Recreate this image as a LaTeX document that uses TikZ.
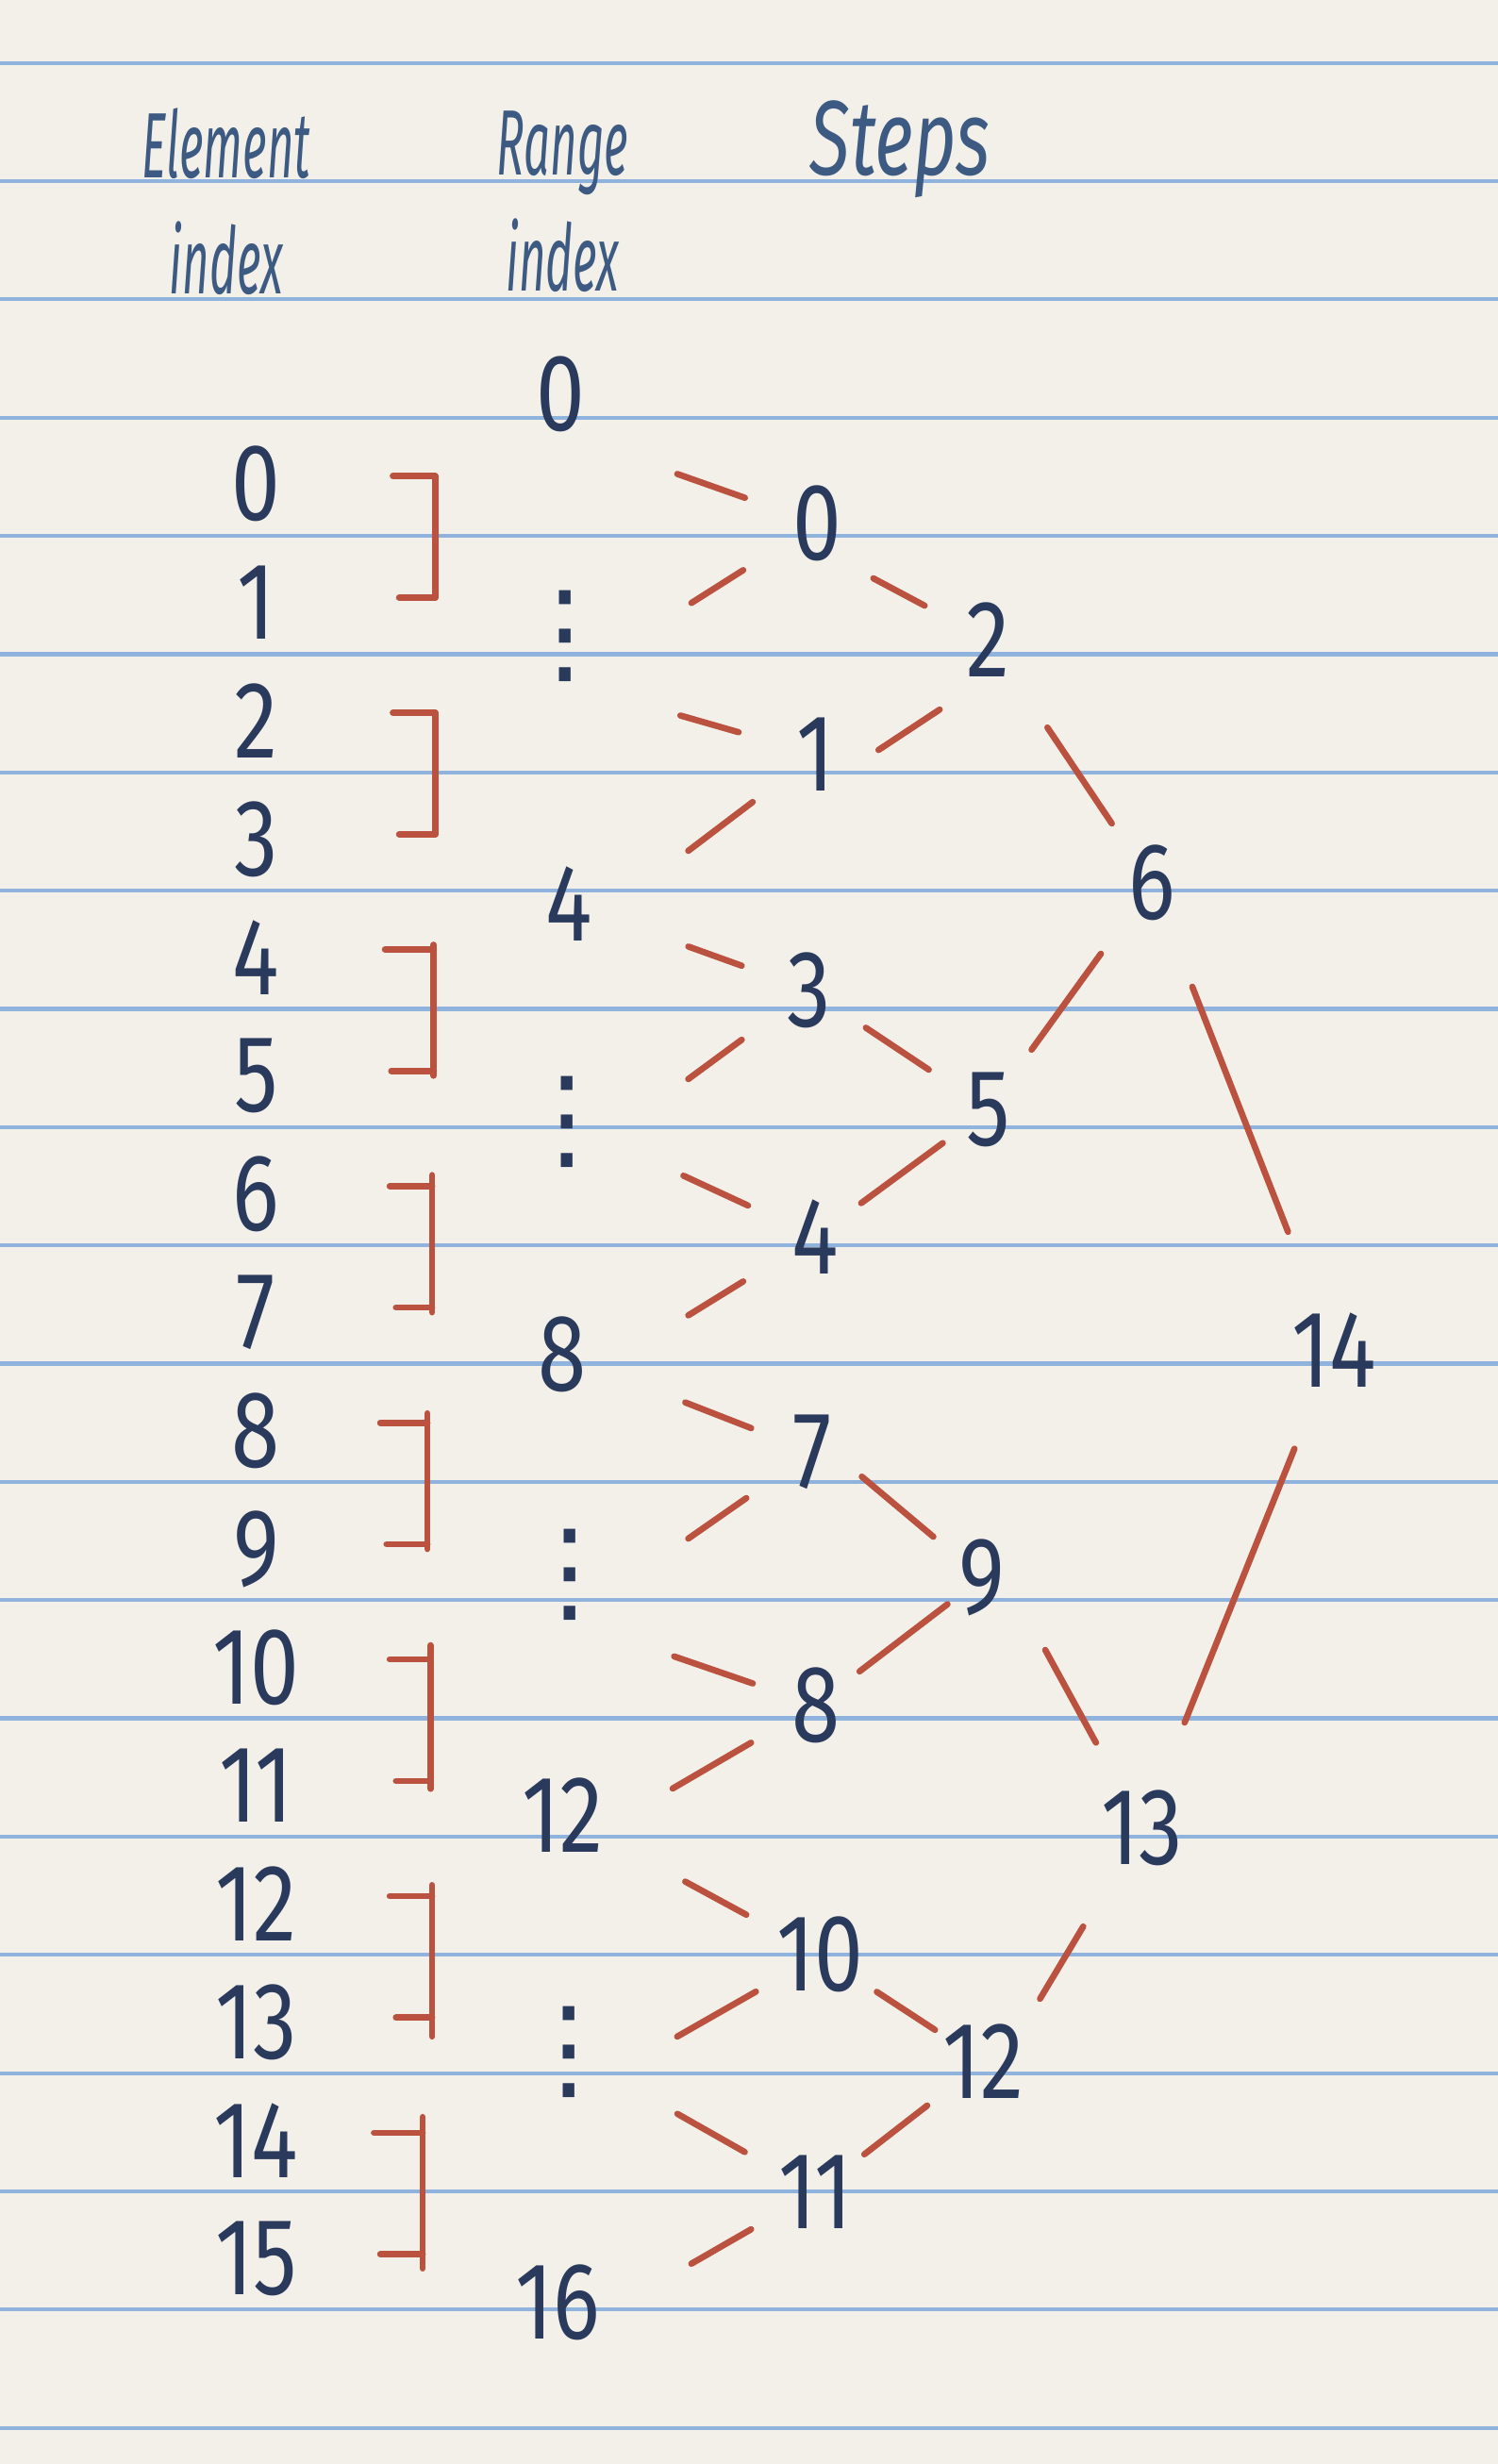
\documentclass[tikz,border=0pt]{standalone}
\usepackage{fontspec}
\usepackage{tikz}
\usetikzlibrary{calc}
\newfontfamily\handfont[FakeStretch=0.8]{Fira Sans}
\newfontfamily\headfont[FakeStretch=0.5]{Fira Sans}
\newfontfamily\stepsfont[FakeStretch=0.7]{Fira Sans}
\newfontfamily\dotsfont{DejaVu Sans}
\definecolor{paper}{HTML}{F3F0E9}
\definecolor{ruleblue}{HTML}{8FB3DD}
\definecolor{inkblue}{HTML}{2A3A5C}
\definecolor{headink}{HTML}{3D5A82}
\definecolor{penred}{HTML}{BB5240}

\begin{document}
\begin{tikzpicture}[x=0.16663mm, y=-0.16663mm,
    num/.style={font=\handfont\fontsize{33}{36}\selectfont, text=inkblue, inner sep=0pt},
    dots/.style={font=\dotsfont\fontsize{34}{38}\selectfont, text=inkblue, inner sep=0pt},
    head/.style={font=\headfont\itshape\fontsize{28}{35}\selectfont, text=headink, inner sep=0pt, align=center},
    link/.style={penred, line width=1.9pt, line cap=round},
    bracket/.style={penred, line width=1.9pt, line cap=round}]
    % Sheet of ruled paper
    \fill[paper] (0,0) rectangle (953,1568);
    \useasboundingbox (0,0) rectangle (953,1568);
    \foreach \k in {0,...,20}
      \draw[ruleblue, line width=1.2pt] (0,40+75.25*\k) -- (953,40+75.25*\k);
    % Column headings
    \node[head] (hElem)  at (144,128) {Element\\index};
    \node[head] (hRange) at (358,128) {Range\\index};
    \node[head, font=\stepsfont\itshape\fontsize{32}{38}\selectfont] (hSteps) at (573,95) {Steps};
    % Element indices
    \foreach \i in {0,...,15}
      \node[num] (e\i) at (163, 308+75.3*\i) {\i};
    % Pair brackets
    \foreach \k/\l/\xl/\xr/\o/\u in {0/1/250/277/0/0, 2/3/250/277/0/0, 4/5/245/276/3/3,
        6/7/248/275/7/3, 8/9/242/272/6/3, 10/11/248/274/9/5, 12/13/248/275/7/12, 14/15/238/269/10/9} {
      \draw[bracket] ($(e\k)+(\xl-163,-5)$) -- ($(e\k)+(\xr-163,-5)$);
      \draw[bracket] ($(e\k)+(\xr-163,-5-\o)$) -- ($(e\l)+(\xr-163,-3+\u)$);
      \draw[bracket] ($(e\l)+(\xl-159,-3)$) -- ($(e\l)+(\xr-163,-3)$);
    }
    % Range indices
    \node[num]  (r0)  at (357,251)  {0};
    \node[dots] (d1)  at (360,405)  {⋮};
    \node[num]  (r4)  at (362,575)  {4};
    \node[dots] (d2)  at (361,714)  {⋮};
    \node[num]  (r8)  at (358,862)  {8};
    \node[dots] (d3)  at (363,1002) {⋮};
    \node[num]  (r12) at (358,1155) {12};
    \node[dots] (d4)  at (362,1306) {⋮};
    \node[num]  (r16) at (355,1465) {16};
    % Steps
    \foreach \n/\x/\y in {0/520/333, 1/519/480, 2/629/407, 3/515/630, 4/519/787,
        5/629/706, 6/733/562, 7/517/924, 8/519/1085, 9/625/1004, 10/522/1244,
        11/519/1395, 12/626/1312, 13/727/1163, 14/849/859}
      \node[num] (s\n) at (\x,\y) {\n};
    % Ranges into first steps
    \foreach \a/\b/\p/\q in {r0.south/s0/0.454/0.718, d1.south/s0/0.5/0.706,
        d1.south/s1/0.459/0.692, r4.south/s1/0.484/0.745, r4/s3/0.497/0.719,
        d2.south/s3/0.5/0.721, d2/s4/0.468/0.728, r8.south/s4/0.497/0.714,
        r8/s7/0.491/0.755, d3.south/s7/0.487/0.727, d3.south/s8/0.423/0.744,
        r12.south/s8/0.435/0.745, r12/s10/0.476/0.713, d4.south/s10/0.431/0.744,
        d4/s11/0.44/0.713, r16.south/s11/0.518/0.75}
      \draw[link] ($(\a)!\p!(\b)$) -- ($(\a)!\q!(\b)$);
    % Steps into later steps
    \foreach \a/\b/\p/\q in {s0.south east/s2/0.213/0.564, s1.south/s2.south/0.364/0.718,
        s2/s6/0.361/0.755, s3/s5/0.316/0.667, s4/s5/0.264/0.736, s5/s6/0.264/0.688,
        s6/s14/0.222/0.747, s7.east/s9/0.196/0.674, s8/s9/0.264/0.792,
        s9.east/s13/0.289/0.66, s13/s14/0.22/0.793, s10/s12/0.346/0.702,
        s12.north east/s13/0.128/0.496, s11/s12/0.29/0.664}
      \draw[link] ($(\a)!\p!(\b)$) -- ($(\a)!\q!(\b)$);
\end{tikzpicture}
\end{document}
